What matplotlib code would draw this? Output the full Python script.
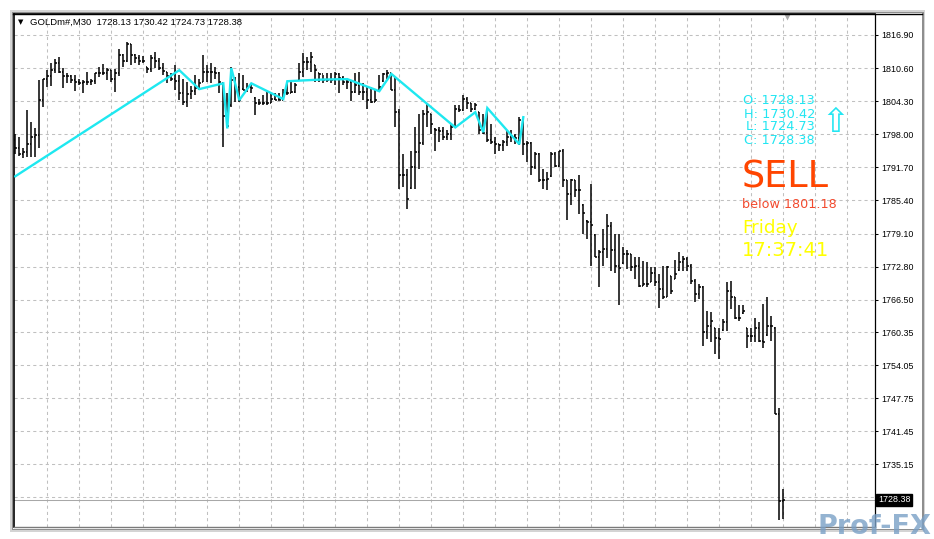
import numpy as np
import matplotlib.pyplot as plt
from matplotlib.patches import Rectangle
from matplotlib.lines import Line2D
import matplotlib.transforms as mtransforms

# header / info panel
symbol = "GOLDm#,M30"
last_ohlc = [1728.13, 1730.42, 1724.73, 1728.38]
signal = "SELL"
signal_level = 1801.18
day_name = "Friday"
clock = "17:37:41"

# M30 bars, oldest first
opens = [1797.0, 1795.3, 1794.3, 1794.6, 1796.2, 1797.4, 1797.9, 1804.6, 1808.5, 1809.1,
         1810.2, 1811.5, 1809.9, 1809.1, 1809.1, 1808.3, 1808.0, 1807.8, 1808.0, 1808.0,
         1808.2, 1809.6, 1809.7, 1809.6, 1810.3, 1808.5, 1809.7, 1813.1, 1811.9, 1815.2,
         1813.0, 1812.6, 1811.9, 1810.9, 1810.5, 1812.6, 1811.9, 1810.6, 1809.9, 1809.0,
         1808.6, 1808.1, 1805.9, 1804.2, 1805.7, 1806.3, 1806.9, 1808.0, 1809.9, 1809.9,
         1809.9, 1809.6, 1807.7, 1801.4, 1803.5, 1808.3, 1807.0, 1806.6, 1806.5, 1807.0,
         1805.0, 1804.0, 1804.0, 1803.9, 1803.9, 1804.8, 1804.6, 1804.6, 1805.8, 1805.9,
         1806.1, 1808.4, 1809.9, 1811.8, 1811.8, 1811.1, 1809.7, 1809.4, 1808.3, 1808.4,
         1808.4, 1809.4, 1808.8, 1808.0, 1808.0, 1806.1, 1807.4, 1806.1, 1806.1, 1804.5,
         1804.2, 1806.2, 1808.1, 1809.4, 1809.6, 1806.5, 1802.3, 1790.3, 1790.2, 1787.8,
         1791.8, 1794.7, 1796.3, 1801.9, 1801.8, 1799.0, 1798.8, 1798.6, 1797.5, 1798.1,
         1799.4, 1802.9, 1802.6, 1804.8, 1803.9, 1802.9, 1802.2, 1798.8, 1798.3, 1796.9,
         1796.5, 1796.2, 1795.9, 1796.5, 1797.5, 1797.6, 1797.2, 1800.7, 1796.2, 1796.3,
         1791.8, 1794.3, 1789.2, 1789.2, 1790.0, 1794.3, 1791.9, 1794.8, 1789.2, 1786.7,
         1789.2, 1787.3, 1784.6, 1781.5, 1781.3, 1778.9, 1774.7, 1775.5, 1776.2, 1780.6,
         1776.0, 1773.0, 1773.4, 1775.2, 1775.2, 1772.7, 1773.0, 1769.2, 1769.5, 1769.9,
         1771.5, 1769.8, 1768.5, 1767.0, 1771.0, 1770.5, 1772.1, 1773.6, 1774.3, 1773.0,
         1770.1, 1767.6, 1768.9, 1760.3, 1761.5, 1761.1, 1759.3, 1760.7, 1762.2, 1768.2,
         1767.0, 1763.1, 1763.9, 1761.1, 1759.6, 1759.6, 1761.2, 1758.7, 1759.7, 1761.5,
         1761.2, 1744.8, 1728.13]
highs = [1798.1, 1797.5, 1795.3, 1802.6, 1800.4, 1799.1, 1808.3, 1808.6, 1810.2, 1811.5,
         1812.4, 1812.8, 1810.7, 1809.6, 1809.3, 1809.3, 1808.6, 1808.4, 1809.8, 1808.6,
         1809.7, 1810.9, 1811.4, 1810.7, 1810.3, 1810.5, 1814.2, 1813.3, 1815.6, 1815.2,
         1813.3, 1813.1, 1812.9, 1810.9, 1813.1, 1813.6, 1812.6, 1811.5, 1809.9, 1809.6,
         1811.2, 1809.3, 1808.6, 1808.0, 1807.2, 1809.3, 1808.6, 1813.0, 1811.2, 1811.5,
         1810.9, 1809.8, 1807.7, 1805.8, 1810.9, 1808.9, 1809.6, 1809.3, 1807.8, 1807.7,
         1805.1, 1804.8, 1805.4, 1806.1, 1805.8, 1805.8, 1805.9, 1806.7, 1808.0, 1808.3,
         1807.7, 1811.5, 1813.4, 1812.8, 1813.7, 1811.2, 1809.7, 1809.3, 1809.6, 1809.6,
         1809.9, 1809.6, 1809.1, 1808.8, 1808.4, 1809.6, 1809.9, 1807.8, 1807.0, 1807.0,
         1806.7, 1809.3, 1809.7, 1810.2, 1809.6, 1808.9, 1802.9, 1794.3, 1791.3, 1794.9,
         1799.4, 1801.9, 1802.6, 1803.9, 1801.9, 1799.1, 1799.4, 1799.3, 1798.8, 1800.0,
         1803.5, 1803.5, 1805.4, 1805.1, 1804.0, 1804.0, 1802.3, 1801.9, 1802.9, 1800.0,
         1797.5, 1796.2, 1796.9, 1798.8, 1798.9, 1798.1, 1801.2, 1801.0, 1796.7, 1796.5,
         1794.6, 1794.4, 1791.4, 1790.8, 1794.6, 1794.6, 1794.9, 1795.1, 1789.2, 1789.5,
         1789.2, 1790.2, 1784.8, 1781.6, 1788.6, 1779.0, 1775.9, 1780.0, 1782.9, 1781.3,
         1779.0, 1779.0, 1776.5, 1775.9, 1775.2, 1774.6, 1774.6, 1773.9, 1773.6, 1772.7,
         1772.7, 1771.4, 1773.0, 1773.0, 1771.1, 1774.0, 1775.5, 1774.9, 1774.6, 1773.3,
         1770.4, 1769.5, 1769.2, 1764.4, 1764.1, 1761.2, 1761.2, 1762.8, 1769.8, 1770.1,
         1767.0, 1765.4, 1765.4, 1761.2, 1761.2, 1763.1, 1762.2, 1765.7, 1767.0, 1763.4,
         1761.3, 1745.9, 1730.42]
lows = [1794.3, 1793.8, 1793.4, 1793.7, 1793.7, 1793.7, 1795.3, 1803.1, 1807.0, 1807.2,
        1809.6, 1809.6, 1806.9, 1807.7, 1807.7, 1806.3, 1807.3, 1805.9, 1807.3, 1807.3,
        1807.5, 1808.9, 1809.3, 1808.3, 1808.0, 1806.1, 1809.1, 1810.9, 1811.8, 1811.2,
        1811.5, 1811.2, 1811.5, 1809.6, 1809.9, 1810.7, 1810.2, 1809.3, 1807.8, 1808.1,
        1806.4, 1804.5, 1803.6, 1803.2, 1804.8, 1805.4, 1806.4, 1808.0, 1808.0, 1807.7,
        1808.6, 1805.8, 1795.5, 1799.1, 1803.2, 1804.2, 1804.2, 1806.4, 1806.1, 1805.9,
        1801.6, 1803.5, 1803.5, 1803.5, 1803.9, 1804.5, 1804.5, 1804.6, 1805.4, 1805.8,
        1805.8, 1808.3, 1808.9, 1810.2, 1809.9, 1808.0, 1808.0, 1807.8, 1808.0, 1807.8,
        1807.4, 1805.9, 1807.4, 1806.7, 1804.4, 1805.8, 1805.4, 1804.5, 1802.9, 1803.9,
        1804.2, 1806.1, 1808.0, 1808.6, 1806.4, 1799.4, 1787.6, 1787.9, 1783.8, 1787.6,
        1787.6, 1791.4, 1795.9, 1799.4, 1798.1, 1794.9, 1796.5, 1796.9, 1796.9, 1796.9,
        1799.4, 1802.3, 1802.5, 1802.9, 1802.3, 1802.6, 1798.1, 1798.1, 1796.5, 1796.2,
        1794.3, 1794.9, 1794.9, 1795.7, 1796.5, 1796.2, 1795.9, 1794.0, 1792.7, 1790.2,
        1791.4, 1788.9, 1787.6, 1787.3, 1789.9, 1791.8, 1791.8, 1788.0, 1781.6, 1784.5,
        1786.0, 1782.9, 1779.0, 1778.1, 1773.0, 1774.6, 1768.9, 1773.0, 1774.5, 1772.0,
        1771.5, 1765.4, 1773.3, 1772.4, 1772.0, 1770.4, 1768.9, 1769.2, 1768.9, 1769.8,
        1769.2, 1765.0, 1766.6, 1767.0, 1767.6, 1770.4, 1772.0, 1772.0, 1772.0, 1769.5,
        1766.0, 1766.6, 1757.7, 1759.0, 1758.4, 1756.1, 1755.2, 1760.6, 1760.6, 1764.7,
        1762.8, 1762.5, 1763.8, 1757.4, 1758.4, 1758.4, 1758.4, 1757.4, 1759.6, 1758.7,
        1744.7, 1724.5, 1724.73]
closes = [1795.3, 1794.3, 1794.6, 1796.2, 1797.4, 1797.9, 1804.6, 1808.5, 1809.1, 1810.2,
          1811.5, 1809.9, 1809.1, 1809.1, 1808.3, 1808.0, 1807.8, 1808.0, 1808.0, 1808.2,
          1809.6, 1809.7, 1809.6, 1810.3, 1808.5, 1809.7, 1813.1, 1811.9, 1815.2, 1813.0,
          1812.6, 1811.9, 1811.9, 1810.5, 1812.6, 1811.9, 1810.6, 1810.0, 1809.0, 1808.6,
          1808.1, 1805.9, 1804.2, 1805.7, 1806.3, 1806.9, 1807.7, 1809.9, 1809.9, 1809.9,
          1809.6, 1808.0, 1801.4, 1799.5, 1808.3, 1807.0, 1804.5, 1806.5, 1807.0, 1806.9,
          1804.0, 1804.0, 1803.9, 1803.9, 1804.8, 1804.6, 1804.6, 1805.8, 1805.9, 1806.1,
          1807.4, 1809.9, 1811.8, 1811.8, 1812.8, 1810.2, 1809.4, 1808.3, 1808.4, 1808.4,
          1809.4, 1808.8, 1808.0, 1808.0, 1806.1, 1807.4, 1806.1, 1806.1, 1804.5, 1804.2,
          1804.6, 1807.0, 1809.4, 1809.6, 1806.5, 1802.3, 1790.3, 1790.2, 1785.7, 1791.8,
          1794.7, 1796.3, 1801.9, 1802.3, 1800.0, 1798.8, 1798.6, 1797.5, 1798.1, 1799.4,
          1802.9, 1802.6, 1804.8, 1803.9, 1802.9, 1803.5, 1798.8, 1798.3, 1796.9, 1796.5,
          1796.2, 1795.9, 1796.5, 1797.5, 1797.6, 1797.2, 1800.7, 1796.2, 1796.3, 1791.8,
          1794.3, 1789.2, 1789.2, 1789.5, 1794.3, 1791.9, 1794.8, 1789.2, 1786.7, 1789.2,
          1787.3, 1787.3, 1783.0, 1781.3, 1780.8, 1774.7, 1775.5, 1776.2, 1780.6, 1776.0,
          1773.0, 1772.5, 1775.2, 1775.2, 1772.7, 1773.0, 1769.2, 1769.5, 1769.5, 1771.5,
          1769.8, 1768.5, 1767.0, 1772.7, 1768.2, 1771.4, 1773.6, 1774.3, 1773.0, 1770.1,
          1767.6, 1768.9, 1760.3, 1761.5, 1762.5, 1759.3, 1759.0, 1762.2, 1768.2, 1767.0,
          1763.1, 1763.1, 1764.4, 1759.6, 1759.6, 1761.2, 1758.7, 1758.4, 1761.5, 1761.5,
          1744.8, 1728.13, 1728.38]

# cyan zigzag line: bar index and price of each vertex
zz_bars = [0, 41, 46, 52, 53, 54, 56, 59, 67, 68, 76, 83, 91, 94, 110, 115, 117, 118, 126, 127]
zz_prices = [1790.0, 1810.2, 1806.6, 1807.7, 1799.1, 1810.6, 1804.5, 1807.7, 1804.7, 1808.1,
             1808.4, 1808.5, 1806.2, 1809.5, 1799.3, 1802.2, 1798.4, 1803.0, 1796.1, 1801.25]

price_ticks = [1816.90, 1810.60, 1804.30, 1798.00, 1791.70, 1785.40, 1779.10, 1772.80,
               1766.50, 1760.35, 1754.05, 1747.75, 1741.45, 1735.15]
hidden_grid_price = 1728.85

W, H = 934, 539
fig = plt.figure(figsize=(W / 100, H / 100), dpi=100)
fig.patch.set_facecolor("white")

def fx(px):
    return px / W

def fy(py):
    return 1 - py / H

# window frame (sunken border look)
fig.patches.append(Rectangle((fx(10), fy(532)), (925 - 10) / W, (532 - 10) / H,
                             transform=fig.transFigure, fc="#d4d4d4", ec="none", zorder=-3))
fig.patches.append(Rectangle((fx(12), fy(530)), (924 - 12) / W, (530 - 12) / H,
                             transform=fig.transFigure, fc="#8e8e8e", ec="none", zorder=-2))
fig.patches.append(Rectangle((fx(13), fy(529)), (922 - 13) / W, (529 - 13) / H,
                             transform=fig.transFigure, fc="white", ec="none", zorder=-1))
fig.lines.append(Line2D([fx(13), fx(922)], [fy(13.5), fy(13.5)], transform=fig.transFigure,
                        color="black", lw=1.0))

ax = fig.add_axes([fx(14), fy(527), 861 / W, 513 / H])
ax.set_facecolor("white")

idx = np.arange(len(closes))
ax.vlines(idx, lows, highs, color="black", lw=1.1, zorder=3)
ax.hlines(opens, idx - 0.45, idx, color="black", lw=1.1, zorder=3)
ax.hlines(closes, idx, idx + 0.45, color="black", lw=1.1, zorder=3)

ax.plot(zz_bars, zz_prices, color="#1ee8f0", lw=1.7, zorder=4, solid_joinstyle="miter")

ax.set_xlim(-0.325, 214.925)
ax.set_ylim(1816.90 - 492 * 0.1904, 1816.90 + 21 * 0.1904)

ax.set_xticks(np.arange(8, 209, 8))
ax.set_yticks(price_ticks)
ax.set_yticklabels([f"{p:.2f}" for p in price_ticks])
ax.grid(True, color="#c0c0c0", lw=0.75, linestyle=(0, (3, 3)))
ax.axhline(hidden_grid_price, color="#c0c0c0", lw=0.75, linestyle=(0, (3, 3)))
ax.axhline(last_ohlc[3], color="#a8a8a8", lw=0.75)
ax.set_axisbelow(True)

ax.tick_params(axis="x", length=0, labelbottom=False)
ax.yaxis.tick_right()
ax.tick_params(axis="y", length=2.2, width=0.75, pad=2, labelsize=6.4, colors="black")
for lab in ax.get_yticklabels():
    lab.set_fontfamily("Liberation Sans")

for side in ["left", "top"]:
    ax.spines[side].set_color("black")
    ax.spines[side].set_linewidth(1.2)
ax.spines["right"].set_color("black")
ax.spines["right"].set_linewidth(0.9)
ax.spines["bottom"].set_color("#7a7a7a")
ax.spines["bottom"].set_linewidth(1.0)

# current price box on the price scale
blend = mtransforms.blended_transform_factory(ax.transAxes, ax.transData)
ax.text(1 + 3 / 861, last_ohlc[3], f"{last_ohlc[3]:.2f}", transform=blend, ha="left",
        va="center", color="white", fontsize=6.4, family="Liberation Sans", clip_on=False,
        bbox=dict(boxstyle="square,pad=0.2", fc="black", ec="black"), zorder=6)

# shift marker on top
ax.plot([(787 - 14) / 861], [1 - 2.5 / 513], marker="v", ms=5, color="#a8a8a8",
        mec="none", transform=ax.transAxes, clip_on=False, zorder=5)

# header
fig.text(fx(18), fy(22.5), "\u25bc", fontsize=5, va="center", color="black")
fig.text(fx(30), fy(22.5),
         f"{symbol}  " + " ".join(f"{v:.2f}" for v in last_ohlc),
         fontsize=6.8, family="Liberation Sans", va="center", color="black")

# info panel
cyan = "#22e6f2"
for row, (name, val) in enumerate(zip(["O", "H", "L", "C"], last_ohlc)):
    fig.text(fx(815), fy(101 + row * 13), f"{name}: {val:.2f}", ha="right", va="center",
             fontsize=9.3, family="DejaVu Sans", color=cyan)
fig.text(fx(835), fy(122), "\u21e7", ha="center", va="center", fontsize=24,
         family="DejaVu Sans", color=cyan)
fig.text(fx(742), fy(187.5), signal, ha="left", va="baseline", fontsize=26.3,
         family="DejaVu Sans", color="#ff4500")
fig.text(fx(742), fy(207.5), f"below {signal_level:.2f}", ha="left", va="baseline",
         fontsize=9.2, family="DejaVu Sans", color="#f24a2e")
fig.text(fx(742), fy(233), day_name, ha="left", va="baseline", fontsize=13.2,
         family="DejaVu Sans", color="#ffff00")
fig.text(fx(742), fy(256), clock, ha="left", va="baseline", fontsize=14,
         family="DejaVu Sans", color="#ffff00")

# watermark
fig.text(fx(818), fy(534), "Prof-FX", fontsize=19.5, fontweight="bold", family="DejaVu Sans",
         color="#7aa0c6", alpha=0.8, va="baseline")

fig.savefig("out.png", dpi=100, facecolor=fig.get_facecolor())
